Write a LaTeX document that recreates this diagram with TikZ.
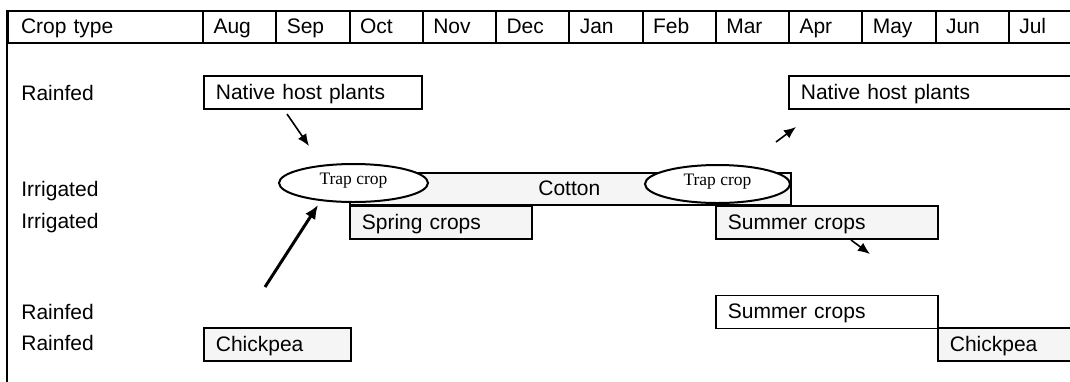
\documentclass[tikz,border=0pt]{standalone}
\usepackage{fontspec}
\setmainfont{Liberation Sans}
\newfontfamily\trapfont{Liberation Serif}
\usetikzlibrary{shapes.geometric,arrows.meta}

\begin{document}
\begin{tikzpicture}[x=0.5pt,y=-0.5pt,
  txt/.style={font=\fontsize{10.5}{12}\selectfont},
  frame/.style={line width=1pt},
  hcell/.style={txt,draw,line width=1pt,rectangle,anchor=north west,
    minimum height=16.25pt,inner ysep=0pt,text height=7.5pt,text depth=0.5pt,align=left},
  mcell/.style={hcell,inner xsep=5.25pt,text width=26.125pt},
  bar/.style={txt,draw,line width=0.85pt,rectangle,anchor=north west,
    minimum height=16.5pt,inner xsep=6pt,inner ysep=0pt,
    text height=7.5pt,text depth=0.75pt,align=left},
  graybar/.style={bar,fill=gray!8},
  trap/.style={draw,fill=white,line width=1pt,ellipse,inner sep=0pt,
    minimum height=19pt,text height=3.5pt,text depth=2pt,
    font=\trapfont\fontsize{8.75}{10}\selectfont},
  rowlab/.style={txt,anchor=base west,inner sep=0pt},
  thin/.style={line width=0.8pt,-{Latex[length=6pt,width=5pt]}},
  thick/.style={line width=1.5pt,-{Latex[length=7pt,width=6pt]}}
]
\useasboundingbox (0,0) rectangle (1070,381);
\clip (0,0) rectangle (1070,381);

% header row
\node[hcell,inner xsep=6.5pt,text width=84.5pt] (hcrop) at (7,9.5) {Crop type};
\foreach \m [count=\i from 0] in {Aug,Sep,Oct,Nov,Dec,Jan,Feb,Mar,Apr,May,Jun,Jul}
  \node[mcell] (m\i) at ({202+73.25*\i},9.5) {\m};

% left frame line
\coordinate (framebot) at (7,392);
\draw[frame] (hcrop.north west) -- (framebot);

% row labels
\node[rowlab] (r1) at (21,100.5) {Rainfed};
\node[rowlab] (r2) at (21,196.5) {Irrigated};
\node[rowlab] (r3) at (21,228) {Irrigated};
\node[rowlab] (r4) at (21,319) {Rainfed};
\node[rowlab] (r5) at (21,350) {Rainfed};

% crop bars
\node[bar,text width=97pt] (native1) at (203,75) {Native host plants};
\node[bar,text width=134pt] (native2) at (788,75) {Native host plants};
\node[graybar,minimum height=16pt,inner xsep=94.25pt,text width=32pt] (cotton) at (349,172) {Cotton};
\node[graybar,text width=79pt] (spring) at (349,205) {Spring crops};
\node[graybar,text width=99pt] (summer1) at (715,205) {Summer crops};
\node[bar,text width=99pt] (summer2) at (715,294.5) {Summer crops};
\node[graybar,text width=61.5pt] (chick1) at (203,327) {Chickpea};
\node[graybar,text width=59.5pt] (chick2) at (937,327) {Chickpea};

% trap crops
\node[trap,minimum width=74.5pt] (trap1) at (353.5,183) {Trap crop};
\node[trap,minimum width=72.5pt] (trap2) at (717.5,184) {Trap crop};

% movement arrows
\coordinate (a1s) at (287,114);
\coordinate (a1e) at (309,146);
\coordinate (a2s) at (265,287);
\coordinate (a2e) at (318,205);
\coordinate (a3s) at (776,142);
\coordinate (a3e) at (796,127);
\coordinate (a4s) at (851,240);
\coordinate (a4e) at (870,254);
\draw[thin] (a1s) -- (a1e);
\draw[thick] (a2s) -- (a2e);
\draw[thin] (a3s) -- (a3e);
\draw[thin] (a4s) -- (a4e);
\end{tikzpicture}
\end{document}
